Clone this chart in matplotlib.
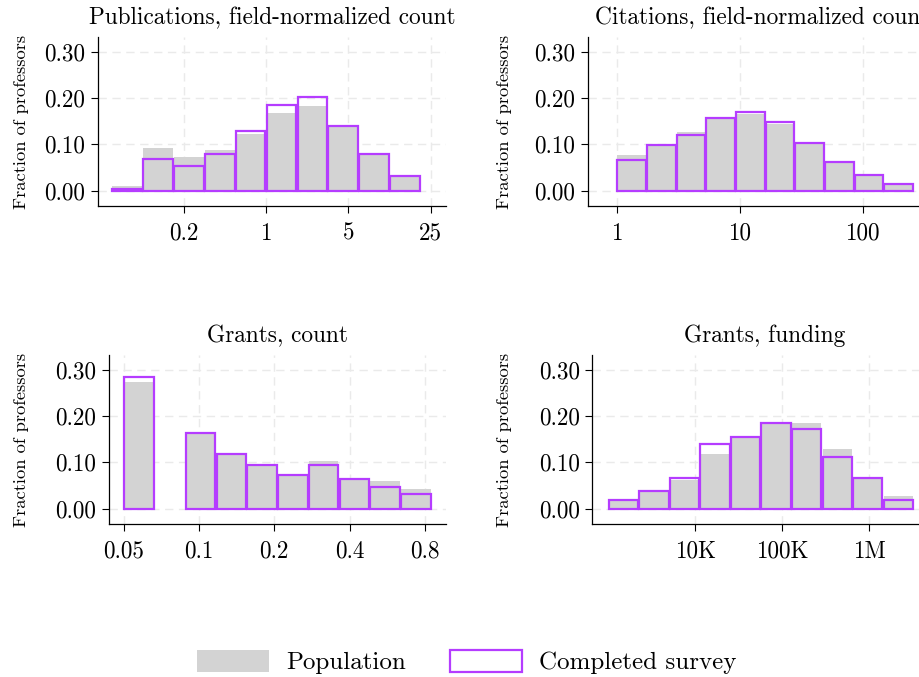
import numpy as np
import matplotlib
matplotlib.use("Agg")
import matplotlib.pyplot as plt
from matplotlib.patches import Patch

plt.rcParams['font.family'] = 'serif'
plt.rcParams['font.serif'] = ['cmr10']
plt.rcParams['axes.formatter.use_mathtext'] = True

# ---------------- data ----------------
pub_edges = 10 ** (np.arange(-5, 6) * 0.262)
pub_pop = [0.010, 0.093, 0.073, 0.087, 0.122, 0.167, 0.183, 0.140, 0.079, 0.030]
pub_survey = [0.004, 0.068, 0.054, 0.079, 0.130, 0.186, 0.203, 0.140, 0.080, 0.032]
pub_ticks = [0.2, 1, 5, 25]
pub_ticklabels = ["0.2", "1", "5", "25"]

cit_edges = 10 ** (np.arange(0, 11) * 0.2413)
cit_pop = [0.077, 0.097, 0.127, 0.155, 0.165, 0.145, 0.102, 0.060, 0.032, 0.013]
cit_survey = [0.066, 0.098, 0.120, 0.156, 0.171, 0.149, 0.104, 0.062, 0.034, 0.014]
cit_ticks = [1, 10, 100]
cit_ticklabels = ["1", "10", "100"]

gc_edges = 0.05 * 2 ** (np.arange(0, 11) * 0.4085)
gc_pop = [0.273, 0.0, 0.162, 0.118, 0.094, 0.072, 0.103, 0.066, 0.060, 0.043]
gc_survey = [0.285, 0.0, 0.164, 0.119, 0.095, 0.073, 0.095, 0.065, 0.047, 0.032]
gc_ticks = [0.05, 0.1, 0.2, 0.4, 0.8]
gc_ticklabels = ["0.05", "0.1", "0.2", "0.4", "0.8"]

gf_edges = 10 ** (3 + np.arange(0, 11) * 0.351)
gf_pop = [0.018, 0.037, 0.061, 0.119, 0.154, 0.184, 0.185, 0.128, 0.065, 0.027]
gf_survey = [0.019, 0.038, 0.066, 0.139, 0.155, 0.185, 0.172, 0.111, 0.066, 0.019]
gf_ticks = [1e4, 1e5, 1e6]
gf_ticklabels = ["10K", "100K", "1M"]

yticks = [0.0, 0.1, 0.2, 0.3]
yticklabels = ["0.00", "0.10", "0.20", "0.30"]

titles = ["Publications, field-normalized count", "Citations, field-normalized count",
          "Grants, count", "Grants, funding"]

# ---------------- style ----------------
GRAY = "#d3d3d3"
PURPLE = "#b53cff"
W, H = 919, 677
fig = plt.figure(figsize=(W / 100, H / 100), dpi=100)


def frac(l, r, t, b):
    return [l / W, 1 - b / H, (r - l) / W, (b - t) / H]


panels = [
    dict(pos=frac(97.7, 446, 37, 206), edges=pub_edges, pop=pub_pop, sur=pub_survey,
         ticks=pub_ticks, labels=pub_ticklabels, xlim=(0.0372, 33.7), base=10, ylab=-0.220),
    dict(pos=frac(587.7, 936, 37, 206), edges=cit_edges, pop=cit_pop, sur=cit_survey,
         ticks=cit_ticks, labels=cit_ticklabels, xlim=(0.58, 394), base=10, ylab=-0.240),
    dict(pos=frac(109, 446, 355, 524), edges=gc_edges, pop=gc_pop, sur=gc_survey,
         ticks=gc_ticks, labels=gc_ticklabels, xlim=(0.0436, 0.973), base=2, ylab=-0.261),
    dict(pos=frac(592.3, 937, 355, 524), edges=gf_edges, pop=gf_pop, sur=gf_survey,
         ticks=gf_ticks, labels=gf_ticklabels, xlim=(660, 6.0e6), base=10, ylab=-0.256),
]

for p, title in zip(panels, titles):
    ax = fig.add_axes(p["pos"])
    ax.set_xscale("log", base=p["base"])
    e = np.asarray(p["edges"], dtype=float)
    shrink = (e[1] / e[0]) ** 0.02
    left = e[:-1] * shrink
    right = e[1:] / shrink
    ax.bar(left, p["pop"], width=right - left, align="edge", color=GRAY,
           edgecolor="none", zorder=2)
    for lft, rgt, h in zip(left, right, p["sur"]):
        if h <= 0:
            continue
        ax.bar([lft], [h], width=[rgt - lft], align="edge", facecolor="none",
               edgecolor=PURPLE, linewidth=1.6, zorder=3)
    ax.set_xlim(*p["xlim"])
    ax.set_ylim(-0.033, 0.332)
    ax.set_xticks(p["ticks"])
    ax.set_xticklabels(p["labels"])
    ax.xaxis.set_minor_locator(matplotlib.ticker.NullLocator())
    ax.set_yticks(yticks)
    ax.set_yticklabels(yticklabels)
    ax.tick_params(axis="both", labelsize=16.7, length=5, width=0.8, direction="out")
    ax.tick_params(axis="x", pad=7)
    ax.tick_params(axis="y", pad=4)
    ax.grid(True, color="#eaeaea", linestyle=(0, (6, 4)), linewidth=1.0, zorder=0)
    ax.set_axisbelow(True)
    for s in ["top", "right"]:
        ax.spines[s].set_visible(False)
    for s in ["left", "bottom"]:
        ax.spines[s].set_linewidth(0.9)
    ax.set_title(title, fontsize=16.8, pad=9.5)
    ax.set_ylabel("Fraction of professors", fontsize=13.3, va="center")
    ax.yaxis.set_label_coords(p["ylab"], 0.5)

handles = [Patch(facecolor=GRAY, edgecolor="none", label="Population"),
           Patch(facecolor="white", edgecolor=PURPLE, linewidth=1.6, label="Completed survey")]
fig.legend(handles=handles, loc="center", bbox_to_anchor=(0.508, 0.022), ncol=2,
           frameon=False, fontsize=18, handlelength=2.88, handleheight=1.0,
           handletextpad=0.68, columnspacing=1.75)

fig.savefig("out.png", dpi=100)
